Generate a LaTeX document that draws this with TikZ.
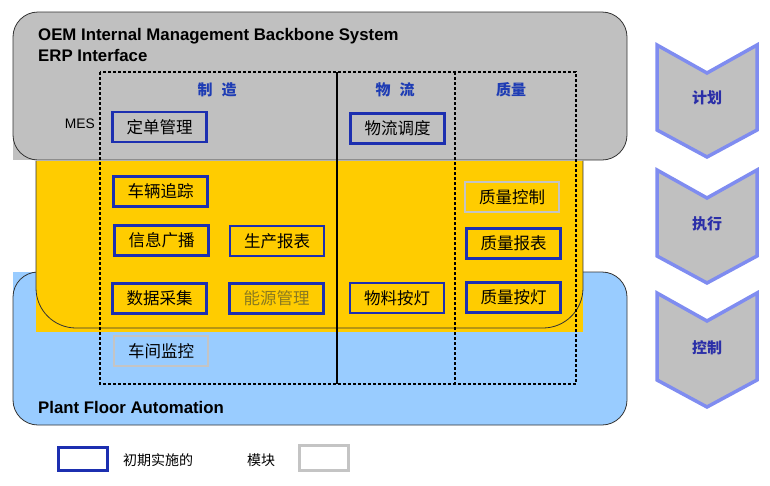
\documentclass[tikz,border=0pt]{standalone}
\usepackage{fontspec}
\setmainfont{Liberation Sans}
\newfontfamily\cjk{Noto Sans CJK SC}
\usepackage{xcolor}
\definecolor{erpgray}{HTML}{C0C0C0}
\definecolor{mesyellow}{HTML}{FFCC00}
\definecolor{plcblue}{HTML}{99CCFF}
\definecolor{modblue}{HTML}{1C2FB0}
\definecolor{modgray}{HTML}{C4C4C4}
\definecolor{headblue}{HTML}{1E3CB4}
\definecolor{chevblue}{HTML}{7F8CF0}
\definecolor{chevtext}{HTML}{2B2FA8}
\definecolor{oldtext}{HTML}{8A7A20}
\tikzset{
	boxline/.style={draw=black!80, line width=0.8pt},
	modul/.style={draw=modblue, line width=2.8pt, minimum width=94pt, minimum height=30pt, inner sep=0pt,
			font=\cjk\fontsize{16.5}{16.5}\selectfont},
	modulgray/.style={modul, draw=modgray},
	colhead/.style={text=headblue, font=\cjk\bfseries\fontsize{15}{15}\selectfont},
	chev/.style={fill=erpgray, draw=chevblue, line width=3.5pt, line join=miter},
	chevlabel/.style={text=chevtext, font=\cjk\bfseries\fontsize{15}{15}\selectfont},
	layer/.style={font=\bfseries\fontsize{16.8}{16.8}\selectfont, inner sep=0pt},
	legendtext/.style={font=\cjk\fontsize{14}{14}\selectfont}
}

\begin{document}
\begin{tikzpicture}[x=1pt,y=-1pt]
    \useasboundingbox (0,0) rectangle (770,485);

    \fill[erpgray, rounded corners=25pt] (13,12) rectangle (627,160);
    \fill[erpgray] (13,100) rectangle (60,160);
    \draw[boxline, rounded corners=25pt] (13,12) rectangle (627,160);

    \fill[plcblue, rounded corners=25pt] (13,272) rectangle (627,425);
    \fill[plcblue] (13,272) rectangle (60,320);
    \draw[boxline, rounded corners=25pt] (13,272) rectangle (627,425);

    \fill[mesyellow] (36,160.5) rectangle (583,332);
    \draw[boxline, rounded corners=40pt] (36,160.5) -- (36,328) -- (583,328) -- (583,160.5);

    \coordinate (ftl) at (100,72);
    \coordinate (fbr) at (576,384);
    \coordinate (s1) at (337,72);
    \coordinate (s2) at (455,72);
    \draw[dash pattern=on 3pt off 2pt, line width=1.4pt] (ftl) rectangle (fbr);
    \draw[line width=1.4pt] (s1) -- (s1 |- fbr);
    \draw[dash pattern=on 3pt off 2pt, line width=1.4pt] (s2) -- (s2 |- fbr);

    \node[layer, anchor=base west] (oem) at (38,40) {OEM Internal Management Backbone System};
    \node[layer, anchor=base west] (erp) at (38,61) {ERP Interface};
    \node[layer, anchor=base west] (pfa) at (38,413) {Plant Floor Automation};
    \node[anchor=base east, inner sep=0pt, font=\fontsize{13.8}{13.8}\selectfont] (mes) at (95,128) {MES};

    \node[colhead] (zhizao) at (217,90) {制\hspace{0.6em}造};
    \node[colhead] (wuliu) at (395,90) {物\hspace{0.6em}流};
    \node[colhead] (zhiliang) at (511,90) {质量};

    \node[modul] (dingdan) at (159.5,127) {定单管理};
    \node[modul] (wldiaodu) at (397.5,128.5) {物流调度};
    \node[modul] (zhuizong) at (160.5,191.5) {车辆追踪};
    \node[modul] (guangbo) at (161.5,240.5) {信息广播};
    \node[modul] (scbaobiao) at (277,241) {生产报表};
    \node[modul] (caiji) at (159.5,298.5) {数据采集};
    \node[modul, text=oldtext] (nengyuan) at (276.5,298.5) {能源管理};
    \node[modul] (wlandeng) at (397,298) {物料按灯};
    \node[modulgray] (zlkongzhi) at (512,197) {质量控制};
    \node[modul] (zlbaobiao) at (513.5,243.5) {质量报表};
    \node[modul] (zlandeng) at (513.5,297.5) {质量按灯};
    \node[modulgray] (jiankong) at (161,351) {车间监控};

    \node[modul, minimum width=49pt, minimum height=23pt] (legblue) at (83,459) {};
    \node[legendtext] (legfirst) at (158,460) {初期实施的};
    \node[legendtext] (legmod) at (261,460) {模块};
    \node[modulgray, minimum width=49pt, minimum height=25pt] (leggray) at (324,458) {};

    \filldraw[chev] (657,45) -- (707,73) -- (757,45) -- (757,130) -- (707,157) -- (657,130) -- cycle;
    \filldraw[chev] (657,170) -- (707,198) -- (757,170) -- (757,256) -- (707,283) -- (657,256) -- cycle;
    \filldraw[chev] (657,293) -- (707,321) -- (757,293) -- (757,380) -- (707,407) -- (657,380) -- cycle;
    \node[chevlabel] (jihua) at (707,98) {计划};
    \node[chevlabel] (zhixing) at (707,224) {执行};
    \node[chevlabel] (kongzhi) at (707,348) {控制};
\end{tikzpicture}
\end{document}
